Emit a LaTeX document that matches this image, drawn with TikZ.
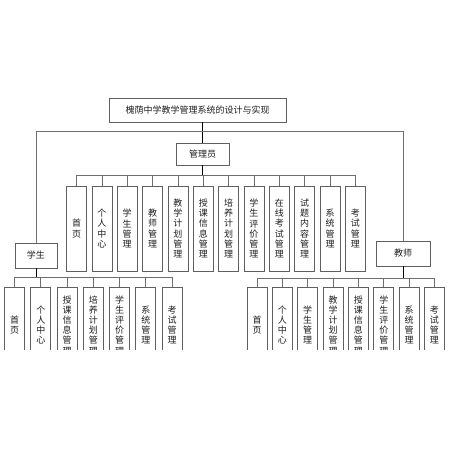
\documentclass[tikz,border=0pt]{standalone}
\usepackage{fontspec}
\setmainfont{Noto Sans CJK SC}
\definecolor{boxc}{RGB}{95,95,95}
\definecolor{linec}{RGB}{110,110,110}
\definecolor{txtc}{RGB}{30,30,30}
\tikzset{
  hbox/.style={draw=boxc, line width=0.7pt, fill=white, inner sep=0pt, text=txtc,
    font=\fontsize{9}{10}\selectfont},
  vbox/.style={draw=boxc, line width=0.7pt, fill=white, inner sep=0pt, text=txtc,
    minimum width=20pt, align=center, font=\fontsize{9}{10.2}\selectfont},
  conn/.style={draw=linec, line width=0.6pt},
  stem/.style={draw=black, line width=0.9pt},
}
\begin{document}
\begin{tikzpicture}[x=1pt,y=-1pt]
\useasboundingbox (0,0) rectangle (450,450);
\fill[white] (0,0) rectangle (450,450);
\begin{scope}
\clip (0,0) rectangle (450,349);
% top
\node[hbox, minimum width=177pt, minimum height=24pt] (title) at (197.5,110) {槐荫中学教学管理系统的设计与实现};
\node[hbox, minimum width=53pt, minimum height=22pt] (mgr) at (202.5,154) {管理员};
\node[hbox, minimum width=42pt, minimum height=25pt] (stu) at (36,255.5) {学生};
\node[hbox, minimum width=54pt, minimum height=25pt] (tea) at (403,253.5) {教师};
\coordinate (tb) at (202.5,131);
\draw[stem] (mgr.north) -- (mgr.north |- title.south);
\draw[conn] (tb) -| (stu.north);
\draw[conn] (tb) -| (tea.north);
% manager children
\foreach \t [count=\i from 0] in {首\\页, 个\\人\\中\\心, 学\\生\\管\\理, 教\\师\\管\\理, 教\\学\\计\\划\\管\\理, 授\\课\\信\\息\\管\\理, 培\\养\\计\\划\\管\\理, 学\\生\\评\\价\\管\\理, 在\\线\\考\\试\\管\\理, 试\\题\\内\\容\\管\\理, 系\\统\\管\\理, 考\\试\\管\\理}{
  \node[vbox, minimum height=85pt] (m\i) at (76.5+25.35*\i,228.5) {\t};
}
\coordinate (mb) at (202.5,175);
\draw[stem] (mgr.south) -- (mb);
\foreach \i in {0,...,11}{\draw[conn] (mb) -| (m\i.north);}
% student children
\foreach \t [count=\i from 0] in {首\\页, 个\\人\\中\\心, 授\\课\\信\\息\\管\\理, 培\\养\\计\\划\\管\\理, 学\\生\\评\\价\\管\\理, 系\\统\\管\\理, 考\\试\\管\\理}{
  \node[vbox, minimum height=76pt] (s\i) at (14.5+26.25*\i,325) {\t};
}
\coordinate (sb) at (36,277);
\draw[stem] (stu.south) -- (sb);
\foreach \i in {0,...,6}{\draw[conn] (sb) -| (s\i.north);}
% teacher children
\foreach \t [count=\i from 0] in {首\\页, 个\\人\\中\\心, 学\\生\\管\\理, 教\\学\\计\\划\\管\\理, 授\\课\\信\\息\\管\\理, 学\\生\\评\\价\\管\\理, 系\\统\\管\\理, 考\\试\\管\\理}{
  \node[vbox, minimum height=76pt] (t\i) at (257+25.35*\i,325) {\t};
}
\coordinate (tbb) at (403,278);
\draw[stem] (tea.south) -- (tbb);
\foreach \i in {0,...,7}{\draw[conn] (tbb) -| (t\i.north);}
\end{scope}
\end{tikzpicture}
\end{document}
